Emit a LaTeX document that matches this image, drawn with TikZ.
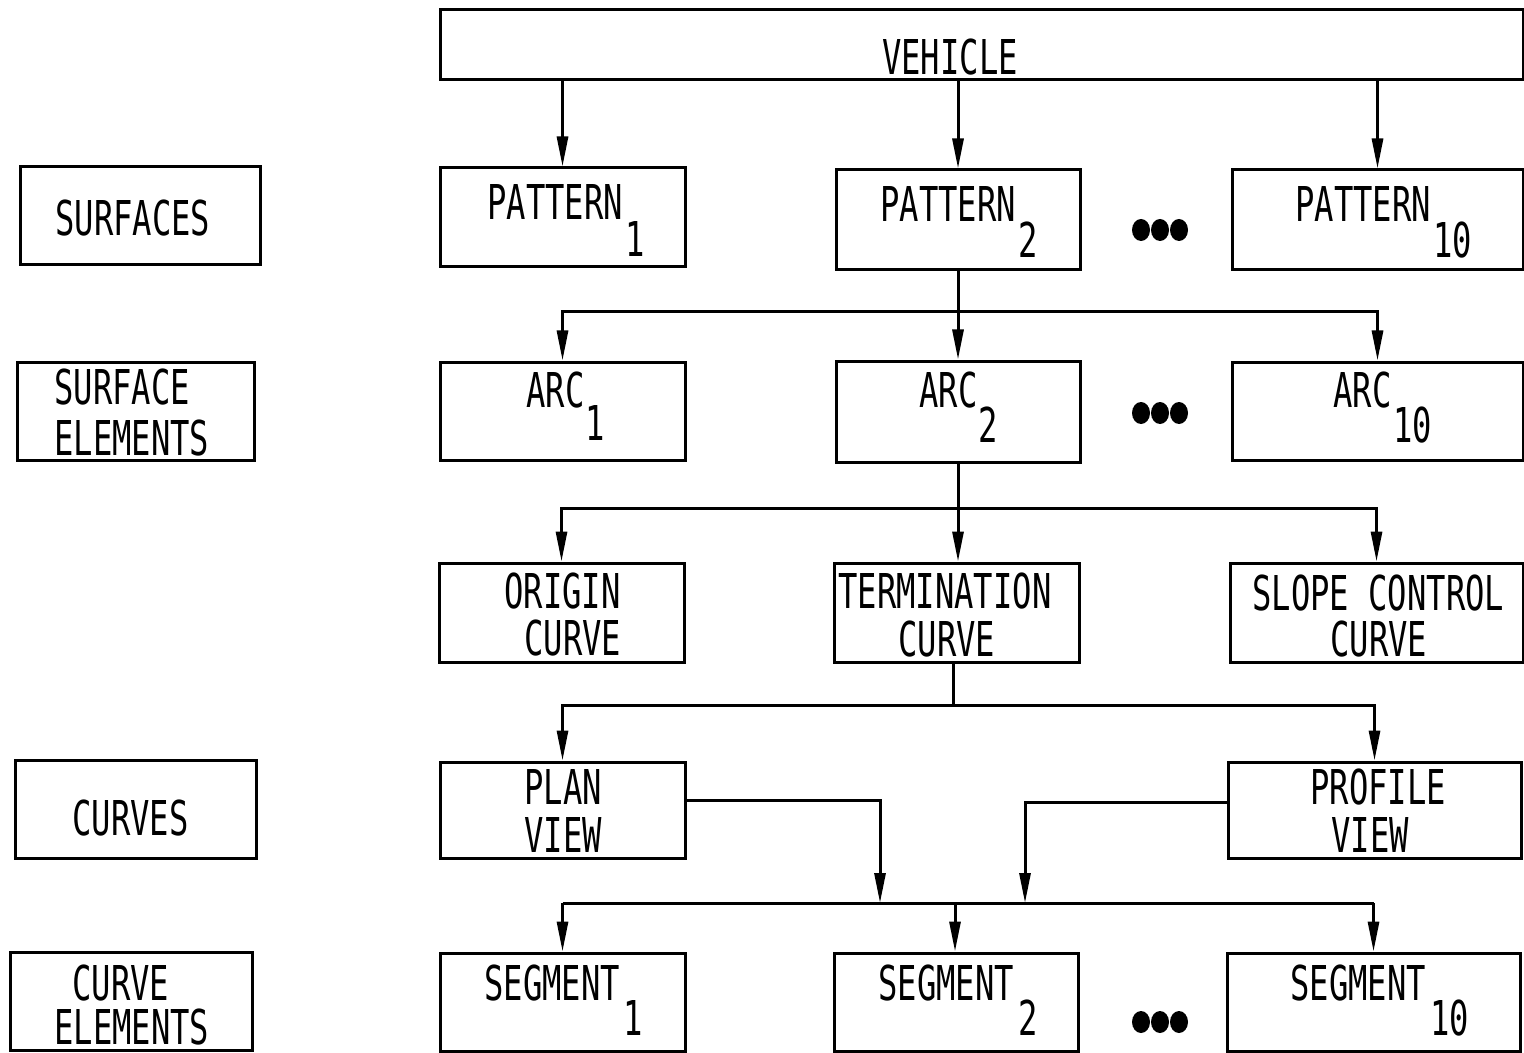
\documentclass[tikz,border=0pt]{standalone}
\usepackage{fontspec}
\setmainfont{DejaVu Sans Mono}[FakeStretch=0.67]
\usetikzlibrary{fit,arrows.meta,shapes.geometric}
\tikzset{
  box/.style={draw, line width=1.5pt, inner sep=0pt, rectangle},
  lbl/.style={inner sep=0pt, anchor=base west, font=\fontsize{24}{28}\selectfont},
  lblc/.style={inner sep=0pt, anchor=base, font=\fontsize{24}{28}\selectfont},
  con/.style={line width=1.5pt},
  arr/.style={line width=1.5pt, -{Triangle[length=15pt,width=5.5pt]}},
  dot/.style={fill=black, draw=none, ellipse, minimum width=9pt, minimum height=11pt, inner sep=0pt}
}
\newcommand{\bx}[5]{\node[box, fit={(#2,#3) (#4,#5)}] (#1) {};}
\begin{document}
\begin{tikzpicture}[x=0.5pt,y=-0.5pt]
\useasboundingbox (0,0) rectangle (1524,1053);
% boxes
\bx{veh}{440}{10}{1523}{80}
\bx{sf}{20}{167}{260}{265}
\bx{p1}{440}{168}{685}{267}
\bx{p2}{836}{170}{1080}{270}
\bx{p10}{1232}{170}{1523}{270}
\bx{se}{17}{362}{254}{460}
\bx{a1}{440}{362}{685}{460}
\bx{a2}{836}{361}{1080}{462}
\bx{a10}{1232}{362}{1523}{460}
\bx{oc}{439}{563}{684}{662}
\bx{tc}{834}{563}{1079}{662}
\bx{sc}{1230}{563}{1523}{662}
\bx{cv}{15}{760}{256}{858}
\bx{pv}{440}{762}{685}{858}
\bx{prv}{1228}{762}{1521}{858}
\bx{ce}{10}{952}{252}{1050}
\bx{s1}{440}{953}{685}{1051}
\bx{s2}{834}{953}{1078}{1051}
\bx{s10}{1227}{953}{1520}{1051}
% texts
\node[lblc] (tveh) at (950,75) {VEHICLE};
\node[lbl] (tsf) at (55,236) {SURFACES};
\node[lbl] (tp1) at (487,220) {PATTERN};
\node[lbl] (tp1s) at (625,257) {1};
\node[lbl] (tp2) at (880,222) {PATTERN};
\node[lbl] (tp2s) at (1018,258) {2};
\node[lbl] (tp10) at (1295,222) {PATTERN};
\node[lbl] (tp10s) at (1433,258) {10};
\node[lbl] (tse1) at (54,404) {SURFACE};
\node[lbl] (tse2) at (54,455) {ELEMENTS};
\node[lbl] (ta1) at (526,407) {ARC};
\node[lbl] (ta1s) at (585,440) {1};
\node[lbl] (ta2) at (919,408) {ARC};
\node[lbl] (ta2s) at (978,442) {2};
\node[lbl] (ta10) at (1333,407) {ARC};
\node[lbl] (ta10s) at (1393,442) {10};
\node[lbl] (toc1) at (504,608) {ORIGIN};
\node[lbl] (toc2) at (524,655) {CURVE};
\node[lbl] (ttc1) at (838,608) {TERMINATION};
\node[lbl] (ttc2) at (898,656) {CURVE};
\node[lbl] (tsc1) at (1252,610) {SLOPE CONTROL};
\node[lbl] (tsc2) at (1330,656) {CURVE};
\node[lbl] (tcv) at (72,835) {CURVES};
\node[lbl] (tpv1) at (524,804) {PLAN};
\node[lbl] (tpv2) at (524,852) {VIEW};
\node[lbl] (tprv1) at (1310,804) {PROFILE};
\node[lbl] (tprv2) at (1331,852) {VIEW};
\node[lbl] (tce1) at (72,1000) {CURVE};
\node[lbl] (tce2) at (54,1044) {ELEMENTS};
\node[lbl] (ts1) at (484,1000) {SEGMENT};
\node[lbl] (ts1s) at (623,1035) {1};
\node[lbl] (ts2) at (878,1000) {SEGMENT};
\node[lbl] (ts2s) at (1018,1035) {2};
\node[lbl] (ts10) at (1290,1000) {SEGMENT};
\node[lbl] (ts10s) at (1430,1035) {10};
% dots
\foreach \y/\n in {230/d1,413/d2,1022/d3}{
  \node[dot] (\n a) at (1141,\y) {};
  \node[dot] (\n b) at (1160,\y) {};
  \node[dot] (\n c) at (1179,\y) {};
}
% connectors level 1
\draw[arr] (veh.south -| p1.north) -- (p1.north);
\draw[arr] (veh.south -| p2.north) -- (p2.north);
\draw[arr] (veh.south -| p10.north) -- (p10.north);
% level 2
\coordinate (j1) at (958,312);
\draw[con] (p2.south) -- (j1);
\draw[arr] (j1) -| (a1.north);
\draw[arr] (j1) -| (a10.north);
\draw[arr] (j1) -- (a2.north);
% level 3
\coordinate (j2) at (958,508);
\draw[con] (a2.south) -- (j2);
\draw[arr] (j2) -| (oc.north);
\draw[arr] (j2) -| (sc.north);
\draw[arr] (j2) -- (j2 |- tc.north);
% level 4
\coordinate (j3) at (953,705);
\draw[con] (tc.south -| j3) -- (j3);
\draw[arr] (j3) -| (pv.north);
\draw[arr] (j3) -| (prv.north);
% level 5
\coordinate (ja) at (880,903);
\coordinate (jb) at (1025,903);
\coordinate (j4) at (955,903);
\draw[arr] ([yshift=5pt]pv.east) -| (ja);
\draw[arr] ([yshift=4pt]prv.west) -| (jb);
\draw[con] (j4 -| s1.north) -- (j4 -| s10.north);
\draw[arr] (j4 -| s1.north) -- (s1.north);
\draw[arr] (j4) -- (j4 |- s2.north);
\draw[arr] (j4 -| s10.north) -- (s10.north);
\end{tikzpicture}
\end{document}
